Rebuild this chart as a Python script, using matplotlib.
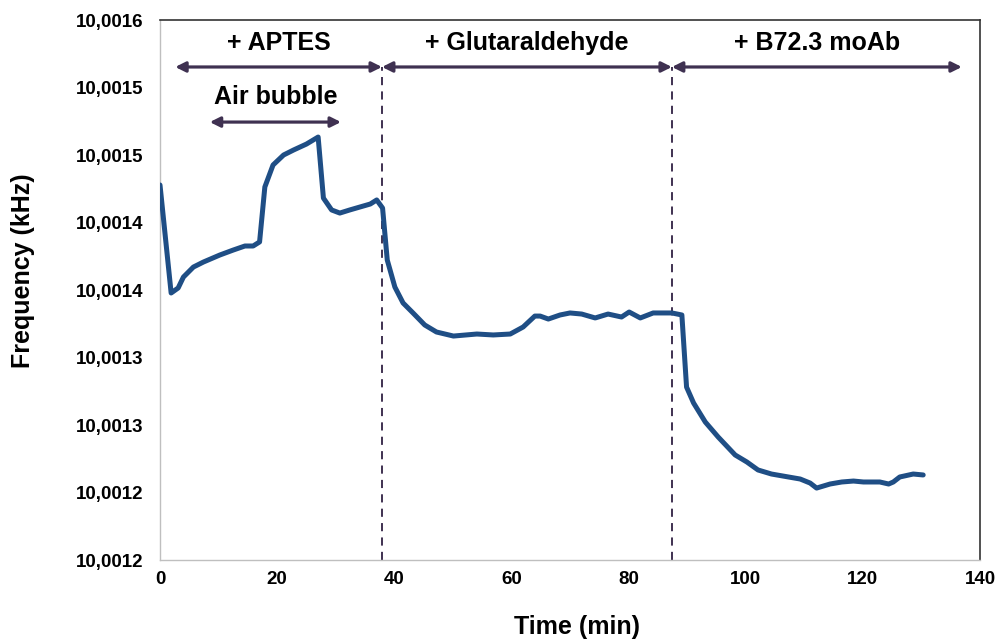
import matplotlib
matplotlib.use("Agg")
import matplotlib.pyplot as plt

plt.rcParams['font.family'] = ['Liberation Sans', 'DejaVu Sans']

time_min = [0.0, 1.9, 3.1, 4.0, 5.7, 7.4, 10.2, 12.5, 14.5, 15.9, 17.0, 17.9, 19.3,
            21.1, 22.8, 25.0, 27.0, 27.9, 29.3, 30.7, 32.4, 35.9, 37.0, 38.0, 38.8,
            40.1, 41.5, 43.2, 45.2, 47.2, 50.1, 54.1, 56.9, 59.8, 62.0, 64.0, 64.9,
            66.3, 68.3, 70.0, 72.0, 74.3, 76.5, 78.8, 80.1, 82.0, 84.2, 87.4, 89.1,
            89.9, 91.1, 93.1, 95.3, 98.2, 100.2, 102.1, 104.4, 107.3, 109.3, 111.0,
            112.1, 114.4, 116.4, 118.4, 120.1, 122.9, 124.4, 125.2, 126.3, 128.6, 130.3]
freq_khz = [10.0014778, 10.0013978, 10.0014015, 10.0014096, 10.0014170, 10.0014207,
            10.0014259, 10.0014296, 10.0014326, 10.0014326, 10.0014356, 10.0014763,
            10.0014926, 10.0015000, 10.0015037, 10.0015081, 10.0015133, 10.0014681,
            10.0014593, 10.0014570, 10.0014593, 10.0014637, 10.0014667, 10.0014607,
            10.0014222, 10.0014022, 10.0013904, 10.0013830, 10.0013741, 10.0013689,
            10.0013659, 10.0013674, 10.0013667, 10.0013674, 10.0013726, 10.0013807,
            10.0013807, 10.0013785, 10.0013815, 10.0013830, 10.0013822, 10.0013793,
            10.0013822, 10.0013800, 10.0013837, 10.0013793, 10.0013830, 10.0013830,
            10.0013815, 10.0013281, 10.0013163, 10.0013022, 10.0012911, 10.0012778,
            10.0012726, 10.0012667, 10.0012637, 10.0012615, 10.0012600, 10.0012570,
            10.0012533, 10.0012563, 10.0012578, 10.0012585, 10.0012578, 10.0012578,
            10.0012563, 10.0012578, 10.0012615, 10.0012637, 10.0012630]

x_ticks = [0, 20, 40, 60, 80, 100, 120, 140]
y_ticks = [10.00120, 10.00125, 10.00130, 10.00135, 10.00140, 10.00145, 10.00150, 10.00155, 10.00160]
y_tick_labels = ["10,0012", "10,0012", "10,0013", "10,0013", "10,0014",
                 "10,0014", "10,0015", "10,0015", "10,0016"]

phase_labels = ["+ APTES", "+ Glutaraldehyde", "+ B72.3 moAb"]
phase_bounds = [2.6, 37.9, 87.4, 136.9]
bubble_label = "Air bubble"
bubble_bounds = [8.5, 30.9]

line_color = "#1F4E85"
annot_color = "#3F3151"

fig = plt.figure(figsize=(10, 6.39), dpi=100)
ax = fig.add_axes([0.16, 0.1236, 0.82, 0.8451])

ax.plot(time_min, freq_khz, color=line_color, lw=3.6, solid_joinstyle='round',
        solid_capstyle='round', zorder=3)

ax.set_xlim(0, 140)
ax.set_ylim(10.0012, 10.0016)
ax.set_xticks(x_ticks)
ax.set_xticklabels([str(v) for v in x_ticks], fontsize=13.5, fontweight='bold')
ax.set_yticks(y_ticks)
ax.set_yticklabels(y_tick_labels, fontsize=13.5, fontweight='bold')
ax.tick_params(axis='y', length=0, pad=12)
ax.tick_params(axis='x', length=0, pad=8)

for side in ['top', 'right']:
    ax.spines[side].set_color('#333333')
    ax.spines[side].set_linewidth(1.2)
for side in ['left', 'bottom']:
    ax.spines[side].set_color('#BFBFBF')
    ax.spines[side].set_linewidth(1.0)

ax.set_xlabel("Time (min)", fontsize=18, fontweight='bold')
ax.set_ylabel("Frequency (kHz)", fontsize=18, fontweight='bold')
ax.xaxis.label.set_va('center')
ax.yaxis.label.set_va('center')
ax.xaxis.set_label_coords(0.5085, -0.124)
ax.yaxis.set_label_coords(-0.167, 0.535)

arrow_y = 10.0015652
text_y = 10.001583
for b in phase_bounds[1:3]:
    ax.plot([b, b], [10.0012, arrow_y], color=annot_color, lw=1.4,
            ls=(0, (4.2, 3.2)), zorder=2)
for i, lab in enumerate(phase_labels):
    a, b = phase_bounds[i], phase_bounds[i + 1]
    ax.annotate("", xy=(a, arrow_y), xytext=(b, arrow_y),
                arrowprops=dict(arrowstyle='<|-|>', color=annot_color, lw=2.3,
                                mutation_scale=15, shrinkA=0, shrinkB=0))
    ax.text((a + b) / 2, text_y, lab, ha='center', va='center',
            fontsize=18, fontweight='bold', color='black')

bub_y = 10.0015244
ax.annotate("", xy=(bubble_bounds[0], bub_y), xytext=(bubble_bounds[1], bub_y),
            arrowprops=dict(arrowstyle='<|-|>', color=annot_color, lw=2.3,
                            mutation_scale=15, shrinkA=0, shrinkB=0))
ax.text(sum(bubble_bounds) / 2, 10.001543, bubble_label, ha='center', va='center',
        fontsize=18, fontweight='bold', color='black')

fig.savefig("out.png", dpi=100)
